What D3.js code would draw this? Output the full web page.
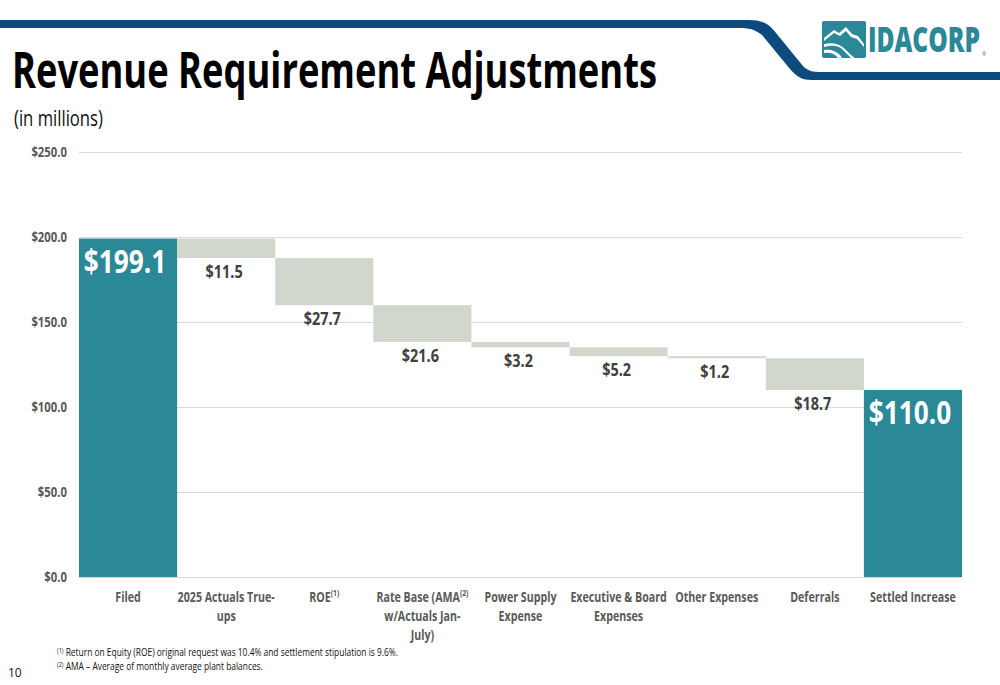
<!DOCTYPE html>
<html>
<head>
<meta charset="utf-8">
<title>Revenue Requirement Adjustments</title>
<script src="https://d3js.org/d3.v7.min.js"></script>
<style>
  body { margin: 0; background: #fff; }
  svg text { font-family: "Open Sans", sans-serif; }
</style>
</head>
<body>
<div id="chart"></div>
<script>

const width = 1000;
const height = 685;

// data
const categories = ["Filed", "2025 Actuals True-ups", "ROE", "Rate Base (AMA w/Actuals Jan-July)",
  "Power Supply Expense", "Executive & Board Expenses", "Other Expenses", "Deferrals", "Settled Increase"];
const labelLines = [["Filed"], ["2025 Actuals True-", "ups"], ["ROE"], ["Rate Base (AMA", "w/Actuals Jan-", "July)"],
  ["Power Supply", "Expense"], ["Executive & Board", "Expenses"], ["Other Expenses"], ["Deferrals"], ["Settled Increase"]];
const labelNotes = ["", "", "(1)", "(2)", "", "", "", "", ""];
const values = [199.1, -11.5, -27.7, -21.6, -3.2, -5.2, -1.2, -18.7, 110.0];
const isTotal = [true, false, false, false, false, false, false, false, true];
const yTicks = [0, 50, 100, 150, 200, 250];
const footnotes = [
  ["(1)", " Return on Equity (ROE)  original request was 10.4% and settlement stipulation is 9.6%."],
  ["(2)", " AMA \u2013 Average of monthly average plant balances."]
];

const teal = "#2b8896";
const grey = "#d1d7cd";
const navy = "#0d4a7d";

// Open Sans is wider than the slide font, squeeze it horizontally around its x
function condense(sel, k) {
  sel.each(function () {
    const t = d3.select(this);
    const x0 = +t.attr("x") || 0;
    t.attr("transform", `translate(${x0},0) scale(${k},1) translate(${-x0},0)`);
  });
}
// squeeze a start-anchored text to a given width
function fitWidth(t, w) {
  const natural = t.node().getComputedTextLength();
  condense(t, w / natural);
}

const svg = d3.select("#chart").append("svg").attr("width", width).attr("height", height);

// header band
svg.append("path")
  .attr("d", "M0,20 H748 C762,20 768,23 776,33 L803,66 C808,71 812,72 822,72 H1000 V80 H812 C802,80 797,77 790,69 L762,35 C754,29 750,28 738,28 H0 Z")
  .attr("fill", navy);

// logo
const logo = svg.append("g");
logo.append("rect").attr("x", 822).attr("y", 21).attr("width", 44).attr("height", 37).attr("rx", 2).attr("fill", teal);
logo.append("path")
  .attr("d", "M824,38 L834,30 L839,33 L846,27 L852,34 L858,36 L864,44 L864,47 L857,39 L851,37 L846,31 L840,36 L834,33 L824,41 Z")
  .attr("fill", "#fff");
logo.append("path")
  .attr("d", "M824,44 C834,42 840,44 846,50 C850,54 852,56 855,58 L851,58 C848,55 845,52 842,49 C837,45 832,45 824,47 Z")
  .attr("fill", "#fff");
logo.append("path")
  .attr("d", "M824,50 C831,49 836,51 840,55 L842,58 L838,58 C835,54 831,52 824,53 Z")
  .attr("fill", "#fff");
const logoText = logo.append("text").attr("x", 868).attr("y", 52).attr("fill", teal)
  .attr("font-weight", "800").attr("font-size", 35)
  .text("IDACORP");
fitWidth(logoText, 112);
logo.append("text").attr("x", 982).attr("y", 56).attr("fill", teal).attr("font-size", 5).text("\u00ae");

// titles
const title = svg.append("text").attr("x", 12).attr("y", 88)
  .attr("font-weight", "bold").attr("font-size", 50).attr("fill", "#000")
  .text("Revenue Requirement Adjustments");
fitWidth(title, 645);
const sub = svg.append("text").attr("x", 14).attr("y", 126)
  .attr("font-size", 21).attr("fill", "#111")
  .text("(in millions)");
fitWidth(sub, 89);

// scales
const margin = { left: 79, right: 38, top: 152, bottom: 108 };
const x = d3.scaleBand().domain(categories).range([margin.left, width - margin.right]).padding(0);
const y = d3.scaleLinear().domain([0, 250]).range([height - margin.bottom, margin.top]);

// grid + y axis
const yAxis = d3.axisLeft(y).tickValues(yTicks).tickSize(-(width - margin.right - margin.left))
  .tickFormat(d => "$" + d3.format(".1f")(d));
const gy = svg.append("g").attr("transform", `translate(${margin.left},0)`).call(yAxis);
gy.select(".domain").remove();
gy.selectAll(".tick line").attr("stroke", "#d9d9d9").attr("stroke-width", 1.2);
gy.selectAll(".tick text").attr("x", -12).attr("fill", "#595959")
  .attr("font-weight", "bold").attr("font-size", 13.5)
  .call(condense, 0.84);

// waterfall steps
let running = 0;
const steps = values.map((v, i) => {
  let lo, hi;
  if (isTotal[i]) { lo = 0; hi = v; running = v; }
  else { hi = running; running = running + v; lo = running; }
  return { cat: categories[i], v, lo, hi, total: isTotal[i] };
});

const bars = svg.append("g");
bars.selectAll("rect").data(steps).join("rect")
  .attr("x", d => x(d.cat))
  .attr("width", x.bandwidth())
  .attr("y", d => y(d.hi))
  .attr("height", d => y(d.lo) - y(d.hi))
  .attr("fill", d => d.total ? teal : grey);

// value labels
const vl = svg.append("g").selectAll("text").data(steps).join("text")
  .attr("x", d => x(d.cat) + x.bandwidth() / 2 - (d.total ? 3 : 2))
  .attr("y", d => d.total ? y(d.hi) + 34 : y(d.lo) + 20)
  .attr("text-anchor", "middle")
  .attr("font-weight", "bold")
  .attr("font-size", d => d.total ? 32 : 18.5)
  .attr("fill", d => d.total ? "#fff" : "#404040")
  .text(d => "$" + d3.format(".1f")(Math.abs(d.v)));
condense(vl.filter(d => d.total), 0.82);
condense(vl.filter(d => !d.total), 0.78);

// category labels
const gx = svg.append("g");
categories.forEach((c, i) => {
  const cx = x(c) + x.bandwidth() / 2;
  labelLines[i].forEach((line, j) => {
    const t = gx.append("text")
      .attr("x", cx)
      .attr("y", y(0) + 25 + j * 19)
      .attr("text-anchor", "middle")
      .attr("font-weight", "bold").attr("font-size", 13.5).attr("fill", "#595959");
    t.append("tspan").text(line);
    if (j === 0 && labelNotes[i]) {
      t.append("tspan").attr("font-size", 8.5).attr("dy", -6).text(labelNotes[i]);
    }
    condense(t, 0.79);
  });
});

// footnotes
footnotes.forEach((f, i) => {
  const t = svg.append("text").attr("x", 57).attr("y", 656 + i * 14)
    .attr("font-size", 10.5).attr("fill", "#111");
  t.append("tspan").attr("font-size", 7).attr("dy", -3).text(f[0]);
  t.append("tspan").attr("dy", 3).text(f[1]);
  condense(t, 0.8);
});

svg.append("text").attr("x", 8).attr("y", 677).attr("font-size", 12).attr("fill", "#111")
  .text("10");

</script>
</body>
</html>
